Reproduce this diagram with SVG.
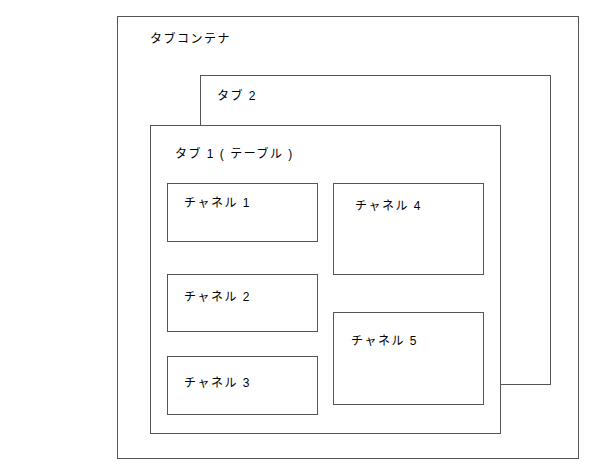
<svg xmlns="http://www.w3.org/2000/svg" width="609" height="470" viewBox="0 0 609 470">
<style>
rect{fill:#fff;stroke:#555;stroke-width:1}
text{font-family:"Liberation Sans","Noto Sans CJK JP",sans-serif;font-size:12px;fill:#000;letter-spacing:1.5px}
</style>
<rect width="609" height="470" style="stroke:none"/>
<g id="container"><rect x="117.5" y="16.5" width="461" height="442"/><text x="150" y="43">タブコンテナ</text></g>
<g id="tab2"><rect x="200.5" y="75.5" width="350" height="309"/><text x="217" y="100">タブ 2</text></g>
<g id="tab1"><rect x="150.5" y="125.5" width="350" height="308"/><text x="175" y="158">タブ 1 ( テーブル )</text></g>
<g id="ch1"><rect x="167.5" y="183.5" width="150" height="58"/><text x="184" y="207">チャネル 1</text></g>
<g id="ch2"><rect x="167.5" y="274.5" width="150" height="57"/><text x="184" y="301">チャネル 2</text></g>
<g id="ch3"><rect x="167.5" y="356.5" width="150" height="58"/><text x="184" y="387">チャネル 3</text></g>
<g id="ch4"><rect x="333.5" y="183.5" width="150" height="91"/><text x="355" y="210">チャネル 4</text></g>
<g id="ch5"><rect x="333.5" y="312.5" width="150" height="92"/><text x="351" y="345">チャネル 5</text></g>
<g id="connectors"/>
</svg>
